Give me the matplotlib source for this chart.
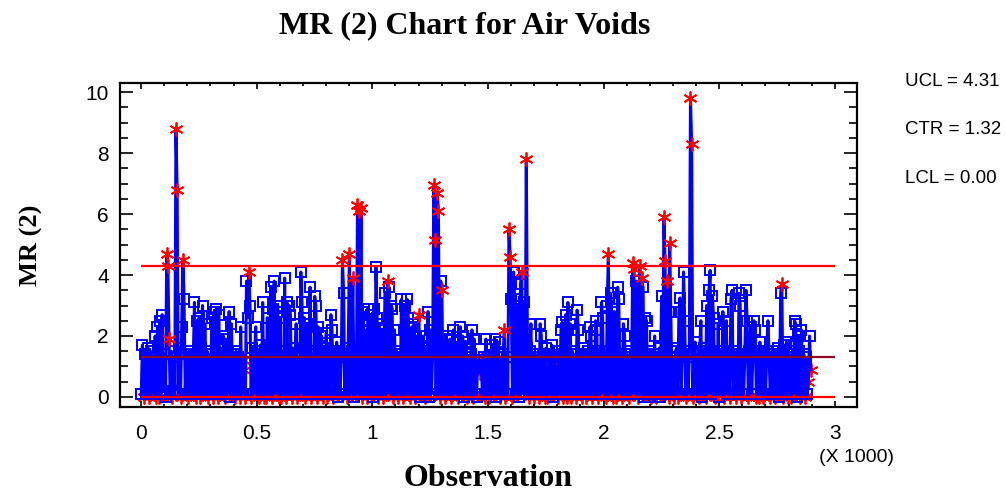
import numpy as np
import matplotlib
matplotlib.use("Agg")
import matplotlib.pyplot as plt

plt.rcParams["path.simplify"] = False

# moving ranges read off the chart, one value every 5 observations
# (each row covers 100 observations)
mr = [
    0.1, 1.7, 0.0, 1.4, 0.1, 1.3, 1.6, 0.0, 1.5, 0.2, 1.3, 0.1, 2.0, 0.0, 2.3, 0.0, 2.5, 0.1, 2.7, 0.2,
    1.4, 0.0, 4.7, 4.3, 1.9, 0.1, 1.5, 0.0, 1.3, 0.2, 8.8, 6.8, 0.1, 1.6, 0.0, 2.3, 4.5, 3.2, 0.1, 1.4,
    0.0, 1.5, 0.2, 1.4, 0.1, 1.3, 3.1, 0.0, 2.5, 0.1, 2.6, 0.0, 1.6, 3.0, 0.1, 2.4, 0.2, 1.5, 0.0, 1.4,
    0.1, 2.6, 0.0, 2.8, 0.1, 2.9, 0.0, 2.7, 0.2, 1.6, 0.1, 2.0, 0.0, 1.9, 0.1, 1.5, 2.8, 0.0, 2.4, 0.1,
    1.4, 0.0, 1.5, 0.1, 1.3, 0.0, 2.3, 0.1, 1.2, 0.9, 0.0, 3.8, 2.6, 4.1, 3.0, 0.0, 1.6, 0.1, 1.4, 2.3,
    0.1, 1.5, 0.0, 1.7, 0.1, 3.1, 0.0, 1.4, 0.0, 2.6, 0.1, 1.5, 3.6, 0.0, 2.9, 3.8, 0.1, 2.8, 3.0, 0.0,
    2.6, 0.0, 1.5, 0.1, 3.9, 0.0, 3.1, 0.1, 3.0, 2.7, 0.0, 1.6, 0.1, 1.4, 2.4, 0.0, 1.3, 0.1, 4.1, 3.1,
    0.1, 2.6, 0.0, 2.4, 0.1, 1.5, 3.6, 0.0, 1.4, 0.1, 3.3, 3.0, 0.0, 2.3, 0.1, 1.5, 2.0, 0.0, 1.6, 0.1,
    2.1, 0.0, 1.5, 0.1, 2.7, 2.2, 0.0, 1.4, 0.1, 1.8, 0.0, 1.5, 0.1, 1.3, 4.5, 3.4, 0.1, 1.4, 0.0, 1.6,
    4.7, 0.1, 1.5, 3.9, 0.0, 1.4, 0.1, 6.3, 6.1, 0.1, 6.2, 0.0, 2.8, 0.1, 2.2, 0.0, 2.9, 2.5, 0.1, 2.7,
    0.0, 2.9, 0.1, 4.25, 2.6, 0.0, 2.4, 0.1, 2.2, 0.0, 1.9, 3.4, 0.1, 3.8, 3.6, 0.1, 3.0, 2.9, 0.0, 2.2,
    0.1, 1.5, 0.0, 1.4, 0.1, 3.2, 0.0, 1.3, 3.0, 0.1, 3.2, 2.6, 0.0, 1.6, 2.3, 0.1, 2.4, 0.0, 2.0, 0.1,
    2.7, 0.0, 1.5, 0.1, 2.0, 0.0, 1.6, 0.1, 2.8, 0.0, 2.2, 0.1, 1.4, 6.95, 5.15, 0.1, 6.7, 6.1, 0.0, 3.8,
    3.5, 0.1, 1.4, 0.0, 2.0, 0.1, 1.5, 1.9, 0.0, 1.3, 2.2, 0.1, 1.5, 1.8, 0.0, 1.4, 2.3, 0.1, 2.0, 0.0,
    1.2, 1.8, 0.0, 1.3, 0.1, 1.4, 2.2, 0.0, 1.9, 0.1, 0.0, 1.2, 1.0, 0.8, 1.2, 0.1, 1.3, 0.0, 1.9, 0.1,
    1.3, 0.0, 1.2, 1.7, 0.1, 1.3, 1.9, 0.0, 1.2, 1.8, 0.0, 1.3, 0.1, 1.4, 2.2, 0.0, 1.3, 0.1, 5.5, 4.6,
    3.2, 0.0, 4.1, 3.2, 0.1, 2.8, 3.0, 0.0, 3.7, 4.1, 0.1, 3.1, 0.1, 7.8, 1.6, 0.0, 1.5, 2.4, 0.1, 1.4,
    0.0, 1.4, 0.1, 1.3, 0.0, 2.4, 2.0, 0.1, 1.3, 0.0, 1.6, 0.0, 1.4, 0.1, 1.3, 1.7, 0.0, 1.3, 1.0, 0.1,
    0.0, 1.5, 0.1, 2.2, 2.45, 0.0, 1.4, 2.7, 0.0, 3.1, 0.1, 2.4, 0.0, 1.5, 0.1, 1.4, 0.0, 2.85, 2.2, 0.1,
    1.4, 0.0, 1.6, 0.1, 1.3, 0.0, 1.5, 0.1, 2.3, 2.0, 0.0, 1.4, 0.1, 2.5, 2.2, 0.0, 1.5, 0.1, 3.1, 2.6,
    0.1, 1.5, 0.0, 3.0, 4.7, 0.1, 3.4, 2.6, 0.0, 2.8, 1.5, 0.0, 3.6, 3.2, 0.1, 1.4, 0.0, 2.4, 2.0, 0.1,
    1.4, 1.3, 0.0, 1.5, 0.1, 4.4, 4.2, 0.1, 3.8, 2.6, 0.0, 4.3, 0.1, 3.9, 3.6, 0.0, 2.6, 2.5, 0.0, 1.4,
    1.5, 0.0, 1.3, 0.1, 2.0, 0.0, 1.4, 0.1, 1.6, 0.0, 3.3, 0.1, 5.9, 4.45, 0.1, 3.8, 0.0, 5.05, 2.8, 0.1,
    1.3, 0.0, 1.5, 1.6, 0.0, 2.8, 3.25, 0.1, 1.4, 4.1, 2.5, 0.0, 1.5, 0.1, 1.3, 9.8, 8.3, 0.0, 1.4, 1.8,
    0.1, 1.4, 0.0, 1.5, 2.5, 0.0, 1.4, 1.6, 0.0, 3.0, 0.1, 3.5, 4.15, 0.1, 3.3, 2.6, 0.0, 1.4, 0.1, 2.4,
    0.0, 1.5, 0.1, 2.8, 0.0, 1.4, 2.5, 0.1, 1.3, 0.0, 3.2, 3.5, 0.1, 1.5, 0.0, 1.4, 0.1, 3.4, 3.0, 0.0,
    1.4, 0.1, 1.3, 3.5, 2.5, 0.0, 1.5, 2.3, 0.1, 1.4, 2.5, 2.2, 0.0, 1.5, 0.0, 1.8, 0.1, 1.4, 0.0, 1.3,
    0.1, 1.5, 2.5, 1.4, 0.0, 1.4, 0.1, 1.5, 0.0, 1.3, 0.1, 1.6, 0.0, 3.4, 3.7, 0.0, 1.7, 0.1, 1.8, 0.0,
    1.4, 1.3, 0.0, 1.5, 0.1, 2.5, 2.4, 0.0, 2.0, 1.5, 0.0, 2.2, 0.1, 1.4, 0.0, 1.3, 0.1, 0.5, 2.0, 0.9,
]
obs_step = 5

# points flagged by the run rules (index into mr)
run_flags = [2, 7, 13, 15, 23, 24, 27, 34, 40, 47, 51, 58, 62, 66, 72, 79, 81, 85, 88, 89, 90,
             93, 95, 102, 106, 108, 113, 119, 121, 125, 130, 135, 142, 147, 152, 157, 161, 166,
             178, 183, 186, 191, 195, 205, 209, 212, 213, 218, 222, 226, 232, 237, 240, 243, 245,
             247, 258, 260, 263, 268, 274, 282, 287, 292, 293, 294, 297, 301, 308, 310, 314,
             315, 321, 329, 335, 340, 344, 349, 351, 357, 358, 360, 365, 368, 372, 376, 381,
             385, 390, 395, 402, 408, 411, 416, 422, 426, 430, 431, 433, 441, 445, 455, 456,
             461, 464, 471, 477, 482, 488, 496, 498, 502, 504, 509, 514, 519, 525, 532, 534,
             538, 544, 548, 554, 555, 559, 562, 570, 574, 577, 579]

UCL = 4.31
CTR = 1.32
LCL = 0.00
x_ticks = [0, 500, 1000, 1500, 2000, 2500, 3000]
x_ticklabels = ["0", "0.5", "1", "1.5", "2", "2.5", "3"]
y_ticks = [0, 2, 4, 6, 8, 10]

sans = "Liberation Sans"
serif = "Liberation Serif"

mr = np.array(mr)
obs = np.arange(len(mr)) * obs_step + 1
flag = np.zeros(len(mr), dtype=bool)
flag[run_flags] = True
flag |= mr > UCL

fig = plt.figure(figsize=(10.05, 4.96), dpi=100)
ax = fig.add_axes([0.1194, 0.1794, 0.7333, 0.6533])

# low flagged points sit under the blue trace, high ones on top
low = flag & (mr < 1.5)
high = flag & ~low
ax.plot(obs[low], mr[low], ls="none", marker=(6, 2, 0), ms=10, mec="#ff0000", mew=1.3, zorder=1)
ax.plot(obs, mr, color="#0000ff", lw=2.2, zorder=2)
ax.plot(obs[~flag], mr[~flag], ls="none", marker="s", ms=6.5, mfc="none", mec="#0000ff", mew=1.4, zorder=2.5)
ax.hlines([UCL, LCL], 0, 3000, color="#ff0000", lw=1.6, zorder=3)
ax.hlines(CTR, 0, 3000, color="#8b0a28", lw=1.6, zorder=3)
ax.plot(obs[high], mr[high], ls="none", marker=(6, 2, 0), ms=10, mec="#ff0000", mew=1.3, zorder=4)

ax.set_xlim(-91, 3096)
ax.set_ylim(-0.33, 10.3)
ax.set_xticks(x_ticks)
ax.set_xticklabels(x_ticklabels)
ax.set_xticks(np.arange(0, 3001, 100), minor=True)
ax.set_yticks(y_ticks)
ax.set_yticklabels([str(v) for v in y_ticks])
ax.set_yticks(np.arange(0, 10.01, 0.5), minor=True)
ax.tick_params(axis="both", which="both", direction="in", top=True, right=True, width=1.2, colors="black")
ax.tick_params(axis="y", which="major", length=9.5, labelsize=15, pad=8)
ax.tick_params(axis="y", which="minor", length=6)
ax.tick_params(axis="x", which="major", length=4, labelsize=15, pad=12)
ax.tick_params(axis="x", which="minor", length=2.5)
for lab in ax.get_xticklabels() + ax.get_yticklabels():
    lab.set_family(sans)
for s in ax.spines.values():
    s.set_linewidth(1.6)

fig.text(0.4627, 0.948, "MR (2) Chart for Air Voids", ha="center", va="center",
         family=serif, weight="bold", fontsize=23)
fig.text(0.486, 0.036, "Observation", ha="center", va="center", family=serif, weight="bold", fontsize=23)
fig.text(0.031, 0.505, "MR (2)", ha="center", va="center", rotation=90, family=serif, weight="bold", fontsize=19)
fig.text(0.852, 0.077, "(X 1000)", ha="center", va="center", family=sans, fontsize=14)
for i, (lab, val) in enumerate([("UCL", UCL), ("CTR", CTR), ("LCL", LCL)]):
    fig.text(0.9, 0.835 - i * 0.097, f"{lab} = {val:.2f}", ha="left", va="center", family=sans, fontsize=13.5)

fig.savefig("out.png", dpi=100)
